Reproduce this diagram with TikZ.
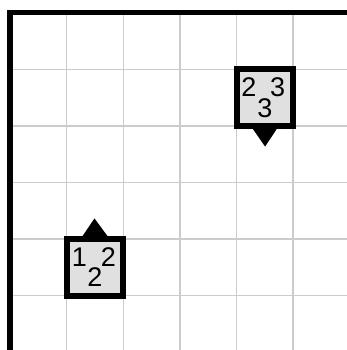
\documentclass[tikz,border=0pt]{standalone}
\usepackage{fontspec}
\setmainfont{Liberation Sans}
\usetikzlibrary{calc}
\definecolor{gridgray}{HTML}{CCCCCC}
\definecolor{boxgray}{HTML}{E0E0E0}
\begin{document}
\begin{tikzpicture}[x=1pt,y=-1pt,
  gridline/.style={draw=gridgray,line width=1.3pt},
  axisline/.style={draw=black,line width=5.5pt,line join=miter},
  cellbox/.style={draw=black,fill=boxgray,line width=6pt,minimum size=56.6pt,inner sep=0pt},
  digit/.style={anchor=base,inner sep=0pt,font=\fontsize{27}{31}\selectfont},
  pointer/.style={fill=black,draw=none}]
\useasboundingbox (0,0) rectangle (347,350);
\fill[white] (0,0) rectangle (347,350);
% grid
\foreach \k in {1,...,5}{
  \draw[gridline] ({10.1+56.6*\k},12.7) -- ({10.1+56.6*\k},350);
  \draw[gridline] (10.1,{12.7+56.6*\k}) -- (347,{12.7+56.6*\k});
}
% axes
\draw[axisline] (10.1,350) -- (10.1,12.7) -- (347,12.7);
% boxes
\node[cellbox] (b1) at (264.8,97.6) {};
\node[cellbox] (b2) at (95.0,267.4) {};
% pointers
\fill[pointer] ($(b1.center)+(-12,31.3)$) -- ($(b1.center)+(12,31.3)$) -- ($(b1.center)+(0.3,49)$) -- cycle;
\fill[pointer] ($(b2.center)+(-12.5,-31.3)$) -- ($(b2.center)+(12.5,-31.3)$) -- ($(b2.center)+(-0.5,-49)$) -- cycle;
% digits
\node[digit] (b1a) at ($(b1.center)+(-16,-0.9)$) {2};
\node[digit] (b1b) at ($(b1.center)+(12.8,-0.9)$) {3};
\node[digit] (b1c) at ($(b1.center)+(0,19.6)$) {3};
\node[digit] (b2a) at ($(b2.center)+(-15.5,-0.7)$) {1};
\node[digit] (b2b) at ($(b2.center)+(13.5,-0.7)$) {2};
\node[digit] (b2c) at ($(b2.center)+(0,19.3)$) {2};
\end{tikzpicture}
\end{document}
